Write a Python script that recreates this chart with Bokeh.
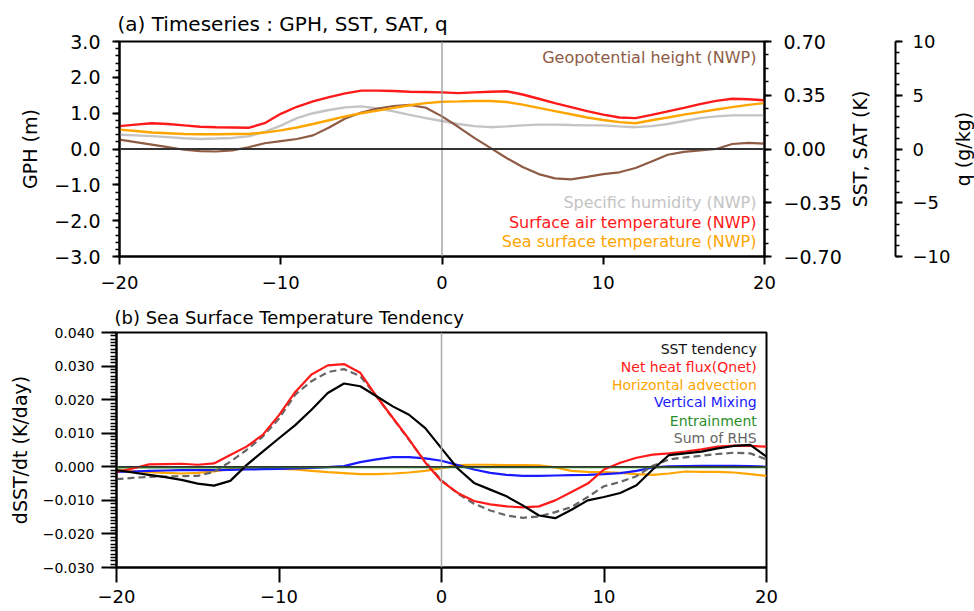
import numpy as np
from bokeh.plotting import figure
from bokeh.models import Range1d, LinearAxis, FixedTicker, CustomJSTickFormatter, Span, Label
from bokeh.layouts import column, row
from bokeh.embed import file_html
from bokeh.resources import INLINE

# ---------------- data ----------------
lag = list(range(-20, 21))

# (a) time series
gph = [0.26, 0.19, 0.12, 0.05, -0.02, -0.06, -0.07, -0.04, 0.05, 0.16, 0.22, 0.28, 0.38, 0.60,
       0.85, 1.02, 1.13, 1.20, 1.23, 1.15, 0.91, 0.62, 0.31, 0.03, -0.25, -0.50, -0.70, -0.82,
       -0.85, -0.78, -0.70, -0.65, -0.53, -0.35, -0.16, -0.08, -0.04, 0.00, 0.14, 0.17, 0.15]  # m
sat = [0.149, 0.159, 0.168, 0.163, 0.154, 0.145, 0.142, 0.140, 0.138, 0.168, 0.229, 0.275, 0.310,
       0.338, 0.362, 0.380, 0.380, 0.378, 0.373, 0.371, 0.369, 0.364, 0.369, 0.373, 0.376, 0.355,
       0.327, 0.299, 0.273, 0.247, 0.224, 0.205, 0.201, 0.222, 0.245, 0.268, 0.292, 0.313, 0.327,
       0.324, 0.317]  # K
sst = [0.126, 0.117, 0.107, 0.103, 0.098, 0.096, 0.096, 0.098, 0.098, 0.107, 0.121, 0.140, 0.163,
       0.187, 0.212, 0.233, 0.250, 0.268, 0.285, 0.299, 0.308, 0.310, 0.313, 0.313, 0.306, 0.289,
       0.268, 0.247, 0.226, 0.205, 0.189, 0.175, 0.168, 0.187, 0.205, 0.224, 0.240, 0.257, 0.273,
       0.287, 0.299]  # K
q = [1.33, 1.27, 1.20, 1.10, 1.00, 0.93, 0.97, 1.03, 1.17, 1.60, 2.17, 2.87, 3.33, 3.63, 3.87,
     3.97, 3.77, 3.50, 3.17, 2.87, 2.60, 2.33, 2.13, 2.03, 2.10, 2.20, 2.27, 2.27, 2.23, 2.20,
     2.20, 2.10, 2.03, 2.13, 2.33, 2.60, 2.87, 3.03, 3.13, 3.13, 3.13]  # g/kg

# (b) SST tendency budget (K/day)
sst_tend = [-0.0010, -0.0017, -0.0024, -0.0031, -0.0039, -0.0050, -0.0056, -0.0042, 0.0005, 0.0045,
            0.0085, 0.0124, 0.0170, 0.0220, 0.0248, 0.0240, 0.0210, 0.0180, 0.0155, 0.0115, 0.0055,
            -0.0005, -0.0048, -0.0068, -0.0088, -0.0115, -0.0145, -0.0153, -0.0128, -0.0100, -0.0090,
            -0.0078, -0.0055, -0.0008, 0.0035, 0.0040, 0.0045, 0.0055, 0.0062, 0.0065, 0.0030]
qnet = [-0.0015, -0.0005, 0.0007, 0.0008, 0.0009, 0.0006, 0.0010, 0.0035, 0.0060, 0.0095, 0.0154,
        0.0223, 0.0275, 0.0302, 0.0306, 0.0280, 0.0210, 0.0146, 0.0082, 0.0013, -0.0043, -0.0078,
        -0.0102, -0.0112, -0.0118, -0.0121, -0.0118, -0.0100, -0.0075, -0.0050, -0.0008, 0.0012,
        0.0027, 0.0036, 0.0040, 0.0045, 0.0052, 0.0060, 0.0063, 0.0062, 0.0060]
hadv = [-0.0010, -0.0013, -0.0016, -0.0018, -0.0020, -0.0018, -0.0014, -0.0006, -0.0005, -0.0005,
        -0.0006, -0.0008, -0.0012, -0.0016, -0.0019, -0.0022, -0.0022, -0.0020, -0.0017, -0.0012,
        -0.0004, 0.0005, 0.0006, 0.0006, 0.0005, 0.0005, 0.0004, -0.0002, -0.0012, -0.0015, -0.0016,
        -0.0018, -0.0022, -0.0024, -0.0020, -0.0014, -0.0015, -0.0015, -0.0017, -0.0022, -0.0027]
vmix = [-0.0015, -0.0014, -0.0012, -0.0011, -0.0010, -0.0010, -0.0010, -0.0009, -0.0008, -0.0007,
        -0.0006, -0.0005, -0.0003, -0.0001, 0.0002, 0.0014, 0.0022, 0.0029, 0.0029, 0.0025, 0.0018,
        0.0005, -0.0008, -0.0018, -0.0024, -0.0027, -0.0027, -0.0026, -0.0025, -0.0024, -0.0022,
        -0.0019, -0.0012, -0.0002, 0.0001, 0.0002, 0.0003, 0.0003, 0.0003, 0.0002, 0.0000]
entr = [-0.0002, -0.0002, -0.0002, -0.0002, -0.0002, -0.0002, -0.0002, -0.0002, -0.0001, -0.0001,
        -0.0001, -0.0001, -0.0001, -0.0001, -0.0001, -0.0001, -0.0001, -0.0001, -0.0001, -0.0001,
        -0.0001, -0.0001, -0.0001, -0.0001, -0.0001, -0.0001, -0.0001, -0.0001, -0.0001, -0.0001,
        -0.0001, -0.0001, -0.0001, -0.0001, -0.0001, -0.0001, -0.0001, -0.0001, -0.0001, -0.0001,
        -0.0001]
rhs = [-0.0037, -0.0033, -0.0030, -0.0029, -0.0028, -0.0027, -0.0015, 0.0015, 0.0050, 0.0090,
       0.0144, 0.0215, 0.0255, 0.0282, 0.0291, 0.0270, 0.0210, 0.0145, 0.0080, 0.0015, -0.0040,
       -0.0080, -0.0110, -0.0130, -0.0145, -0.0152, -0.0148, -0.0135, -0.0120, -0.0090, -0.0058,
       -0.0045, -0.0028, 0.0003, 0.0022, 0.0028, 0.0033, 0.0038, 0.0042, 0.0040, 0.0022]

x_ticks = [-20, -10, 0, 10, 20]
gph_ticks = [-3, -2, -1, 0, 1, 2, 3]
sst_ticks = [-0.70, -0.35, 0.0, 0.35, 0.70]
q_ticks = [-10, -5, 0, 5, 10]
tend_ticks = [-0.03, -0.02, -0.01, 0.0, 0.01, 0.02, 0.03, 0.04]

# ---------------- style ----------------
FONT = "DejaVu Sans"
BROWN = "#8e5b45"
LGREY = "#c4c4c4"
RED = "#ff1a1a"
ORANGE = "#ffa500"
BLUE = "#1a1aff"
GREEN = "#2a8f2a"
DGREY = "#666666"


def fmt(d):
    return CustomJSTickFormatter(args=dict(d=d),
                                 code="return tick.toFixed(d).replace('-', '\\u2212');")


def style_axis(ax, fs="19px", std=12, lfs="19px", tout=7, mout=4):
    ax.axis_line_width = 2
    ax.axis_line_color = "black"
    ax.major_tick_line_width = 2
    ax.major_tick_line_color = "black"
    ax.major_tick_out = tout
    ax.major_tick_in = 0
    ax.minor_tick_out = mout
    ax.minor_tick_in = 0
    ax.minor_tick_line_width = 1.3
    ax.minor_tick_line_color = "black"
    ax.major_label_text_font = FONT
    ax.major_label_text_font_size = fs
    ax.major_label_text_color = "black"
    ax.major_label_standoff = std
    ax.axis_label_text_font = FONT
    ax.axis_label_text_font_size = lfs
    ax.axis_label_text_font_style = "normal"
    ax.axis_label_text_color = "black"


def base_style(p, tfs):
    p.grid.visible = False
    p.outline_line_color = "black"
    p.outline_line_width = 2
    p.outline_line_alpha = 1
    p.title.text_font = FONT
    p.title.text_font_size = tfs
    p.title.text_font_style = "normal"
    p.title.text_color = "black"
    p.title.align = "left"
    p.title.offset = -2
    p.background_fill_color = "white"
    p.border_fill_color = "white"


# ---------------- (a) ----------------
p1 = figure(frame_width=645, frame_height=215, x_range=Range1d(-20, 20), y_range=Range1d(-3, 3),
            output_backend="svg", toolbar_location=None,
            min_border_left=119, min_border_top=41, min_border_bottom=44, min_border_right=80,
            title="(a) Timeseries : GPH, SST, SAT, q")
base_style(p1, "20px")
p1.title.standoff = 12
p1.extra_y_ranges = {"sst": Range1d(-0.7, 0.7), "q": Range1d(-10, 10)}

p1.xaxis.ticker = FixedTicker(ticks=x_ticks, minor_ticks=[])
p1.xaxis.formatter = fmt(0)
style_axis(p1.xaxis[0], fs="18px", std=11, tout=8)

p1.yaxis.ticker = FixedTicker(ticks=gph_ticks, minor_ticks=[round(v, 2) for v in np.arange(-3, 3.001, 0.2)])
p1.yaxis.formatter = fmt(1)
p1.yaxis.axis_label = "GPH (m)"
style_axis(p1.yaxis[0])
p1.yaxis.axis_label_standoff = 10

ax_sst = LinearAxis(y_range_name="sst",
                    ticker=FixedTicker(ticks=sst_ticks,
                                       minor_ticks=[round(v, 4) for v in np.arange(-0.7, 0.7001, 0.0875)]),
                    formatter=fmt(2))
style_axis(ax_sst)
p1.add_layout(ax_sst, "right")

p1.add_layout(Span(location=0, dimension="height", line_color="#999999", line_width=1.3))
p1.add_layout(Span(location=0, dimension="width", line_color="#333333", line_width=1.8))

p1.line(lag, q, y_range_name="q", line_color=LGREY, line_width=2.4)
p1.line(lag, gph, line_color=BROWN, line_width=2.2)
p1.line(lag, sst, y_range_name="sst", line_color=ORANGE, line_width=2.4)
p1.line(lag, sat, y_range_name="sst", line_color=RED, line_width=2.4)

for txt, yy, col in [("Geopotential height (NWP)", 2.56, BROWN),
                     ("Specific humidity (NWP)", -1.49, LGREY),
                     ("Surface air temperature (NWP)", -2.05, RED),
                     ("Sea surface temperature (NWP)", -2.58, ORANGE)]:
    p1.add_layout(Label(x=19.5, y=yy, text=txt, text_align="right", text_baseline="middle",
                        text_color=col, text_font=FONT, text_font_size="16px"))

# side strip: "SST, SAT (K)" title + q axis (same q range as the line above)
pa = figure(frame_width=51, frame_height=215, x_range=Range1d(0, 1), y_range=p1.extra_y_ranges["q"],
            output_backend="svg", toolbar_location=None, x_axis_location=None, y_axis_location="right",
            min_border_left=0, min_border_top=41, min_border_bottom=44, min_border_right=55)
pa.grid.visible = False
pa.outline_line_color = None
pa.border_fill_color = "white"
pa.yaxis.ticker = FixedTicker(ticks=q_ticks, minor_ticks=list(range(-10, 11)))
pa.yaxis.formatter = fmt(0)
style_axis(pa.yaxis[0], fs="18px", std=10)
pa.add_layout(Label(x=0.31, y=0, text="SST, SAT (K)", angle=np.pi / 2, text_align="center",
                    text_baseline="middle", text_color="black", text_font=FONT, text_font_size="19px"))

pb = figure(frame_width=22, frame_height=215, x_range=Range1d(0, 1), y_range=Range1d(-1, 1),
            output_backend="svg", toolbar_location=None, x_axis_location=None, y_axis_location=None,
            min_border_left=0, min_border_top=41, min_border_bottom=44, min_border_right=0)
pb.grid.visible = False
pb.outline_line_color = None
pb.border_fill_color = "white"
pb.add_layout(Label(x=0.42, y=0, text="q (g/kg)", angle=np.pi / 2, text_align="center",
                    text_baseline="middle", text_color="black", text_font=FONT, text_font_size="19px"))

# ---------------- (b) ----------------
p2 = figure(frame_width=650, frame_height=235, x_range=Range1d(-20, 20), y_range=Range1d(-0.03, 0.04),
            output_backend="svg", toolbar_location=None,
            min_border_left=116, min_border_top=32, min_border_bottom=30, min_border_right=20,
            title="(b) Sea Surface Temperature Tendency")
base_style(p2, "18px")
p2.title.standoff = 9

p2.xaxis.ticker = FixedTicker(ticks=x_ticks, minor_ticks=[])
p2.xaxis.formatter = fmt(0)
style_axis(p2.xaxis[0], fs="18px", std=7, tout=15)

p2.yaxis.ticker = FixedTicker(ticks=tend_ticks,
                              minor_ticks=[round(v, 4) for v in np.arange(-0.03, 0.04001, 0.001)])
p2.yaxis.formatter = fmt(3)
p2.yaxis.axis_label = "dSST/dt (K/day)"
style_axis(p2.yaxis[0], fs="14px", std=7, tout=15, mout=6)
p2.yaxis.axis_label_standoff = 9

p2.add_layout(Span(location=0, dimension="height", line_color="#aaaaaa", line_width=1.5))
p2.add_layout(Span(location=0, dimension="width", line_color="#333333", line_width=1.5))

p2.line(lag, hadv, line_color=ORANGE, line_width=2.2)
p2.line(lag, vmix, line_color=BLUE, line_width=2.2)
p2.line(lag, entr, line_color=GREEN, line_width=2.2)
p2.line(lag, rhs, line_color=DGREY, line_width=2.2, line_dash="7 4")
p2.line(lag, qnet, line_color=RED, line_width=2.2)
p2.line(lag, sst_tend, line_color="black", line_width=2.2)

for txt, yy, col in [("SST tendency", 0.0350, "#111111"),
                     ("Net heat flux(Qnet)", 0.0297, RED),
                     ("Horizontal advection", 0.0243, ORANGE),
                     ("Vertical Mixing", 0.0193, BLUE),
                     ("Entrainment", 0.0137, GREEN),
                     ("Sum of RHS", 0.0086, DGREY)]:
    p2.add_layout(Label(x=19.4, y=yy, text=txt, text_align="right", text_baseline="middle",
                        text_color=col, text_font=FONT, text_font_size="14px"))

layout = column(row(p1, pa, pb, spacing=0), p2, spacing=0)
open("out.html", "w").write(file_html(layout, INLINE))
